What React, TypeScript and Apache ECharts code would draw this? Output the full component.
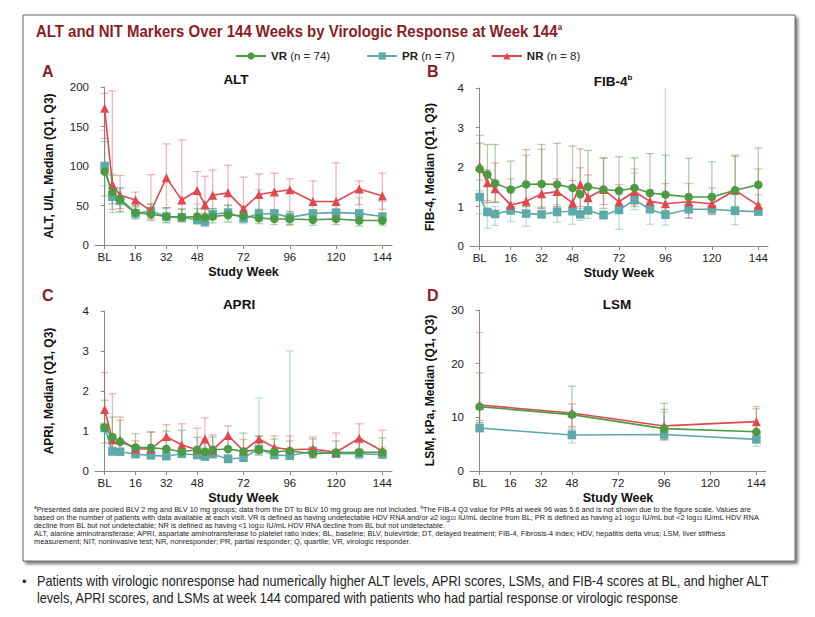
import React, { useEffect, useRef } from "react";
import * as echarts from "echarts";

// ---------- data ----------
const weeks = [0, 4, 8, 16, 24, 32, 40, 48, 52, 56, 64, 72, 80, 88, 96, 108, 120, 132, 144];
const lsmWeeks = [0, 48, 96, 144];
const tickWeeks = [0, 16, 32, 48, 72, 96, 120, 144];

// ALT (U/L)
const altVR = [93, 67, 58, 41, 39, 36, 35, 36, 35, 36, 38, 37, 34, 33, 33, 32, 33, 31, 31];
const altVRq1 = [62, 52, 42, 33, 31, 28, 29, 28, 28, 28, 29, 29, 27, 26, 26, 25, 26, 24, 25];
const altVRq3 = [131, 88, 72, 50, 52, 47, 45, 46, 45, 46, 50, 47, 45, 43, 42, 40, 42, 40, 40];
const altPR = [100, 61, 56, 40, 43, 36, 35, 32, 29, 39, 41, 34, 39, 40, 35, 40, 41, 40, 36];
const altPRq1 = [75, 41, 42, 34, 34, 29, 30, 26, 24, 32, 33, 27, 30, 32, 28, 33, 34, 30, 29];
const altPRq3 = [145, 90, 72, 50, 52, 47, 46, 52, 36, 46, 51, 44, 70, 45, 43, 50, 50, 60, 55];
const altNR = [173, 77, 63, 57, 43, 85, 57, 69, 51, 63, 66, 46, 64, 67, 70, 55, 55, 71, 62];
const altNRq1 = [135, 45, 46, 48, 33, 47, 40, 40, 40, 40, 45, 30, 45, 43, 25, 50, 43, 51, 45];
const altNRq3 = [192, 195, 88, 67, 89, 128, 133, 93, 87, 95, 101, 86, 90, 91, 84, 81, 104, 81, 91];

// FIB-4
const fibVR = [1.95, 1.81, 1.59, 1.43, 1.56, 1.57, 1.56, 1.47, 1.31, 1.5, 1.43, 1.4, 1.47, 1.34, 1.3, 1.24, 1.24, 1.41, 1.55];
const fibVRq1 = [1.3, 1.15, 1.1, 0.95, 1.0, 0.98, 0.98, 0.95, 0.85, 0.95, 0.95, 0.95, 1.0, 0.95, 0.9, 0.85, 0.9, 1.0, 1.05];
const fibVRq3 = [2.8, 2.57, 2.57, 2.15, 2.44, 2.57, 2.6, 2.53, 1.98, 2.42, 2.23, 2.26, 2.23, 2.34, 2.3, 2.22, 2.13, 2.3, 2.48];
const fibPR = [1.24, 0.86, 0.81, 0.9, 0.82, 0.8, 0.86, 0.88, 0.8, 0.9, 0.78, 0.91, 1.17, 0.93, 0.79, 0.93, 0.93, 0.89, 0.87];
const fibPRq1 = [0.82, 0.45, 0.52, 0.62, 0.5, 0.75, 0.6, 0.55, 0.65, 0.7, 0.72, 0.42, 0.92, 0.55, 0.53, 0.72, 0.8, 0.54, 0.8];
const fibPRq3 = [1.4, 1.1, 1.0, 1.1, 1.0, 0.95, 1.05, 1.05, 0.95, 1.1, 0.9, 1.3, 1.85, 1.1, 5.6, 1.05, 1.0, 1.3, 1.3];
const fibNR = [2.02, 1.6, 1.45, 1.04, 1.13, 1.32, 1.38, 1.09, 1.56, 1.23, 1.43, 1.12, 1.38, 1.13, 1.07, 1.12, 1.07, 1.41, 1.03];
const fibNRq1 = [1.67, 1.1, 1.12, 0.95, 0.9, 0.95, 1.0, 0.85, 1.0, 0.95, 1.05, 0.85, 1.05, 0.95, 0.85, 0.7, 0.8, 1.35, 0.9];
const fibNRq3 = [2.6, 1.93, 2.1, 1.7, 2.3, 2.45, 1.7, 1.66, 2.46, 1.8, 2.23, 1.55, 1.95, 1.42, 1.58, 1.58, 1.47, 2.27, 1.95];

// APRI
const apriVR = [1.09, 0.85, 0.73, 0.59, 0.58, 0.55, 0.48, 0.53, 0.48, 0.53, 0.55, 0.49, 0.53, 0.48, 0.5, 0.43, 0.46, 0.47, 0.47];
const apriVRq1 = [0.7, 0.55, 0.5, 0.42, 0.4, 0.38, 0.35, 0.38, 0.35, 0.38, 0.4, 0.36, 0.4, 0.36, 0.36, 0.32, 0.34, 0.35, 0.36];
const apriVRq3 = [1.77, 1.35, 1.27, 0.93, 0.98, 1.0, 1.02, 0.84, 0.8, 0.85, 0.8, 0.95, 0.87, 0.8, 0.75, 0.8, 0.75, 0.8, 0.83];
const apriPR = [1.08, 0.49, 0.48, 0.42, 0.39, 0.37, 0.43, 0.4, 0.36, 0.42, 0.3, 0.33, 0.55, 0.4, 0.38, 0.5, 0.43, 0.43, 0.41];
const apriPRq1 = [0.95, 0.4, 0.42, 0.35, 0.32, 0.3, 0.36, 0.3, 0.3, 0.35, 0.26, 0.28, 0.4, 0.32, 0.3, 0.42, 0.36, 0.3, 0.35];
const apriPRq3 = [1.2, 0.8, 0.55, 0.55, 0.5, 0.48, 0.55, 0.6, 0.5, 0.55, 0.4, 0.45, 1.83, 0.55, 3.0, 0.6, 0.55, 0.7, 0.6];
const apriNR = [1.54, 0.78, 0.78, 0.55, 0.55, 0.86, 0.65, 0.53, 0.8, 0.52, 0.89, 0.5, 0.8, 0.59, 0.53, 0.55, 0.47, 0.82, 0.5];
const apriNRq1 = [1.05, 0.6, 0.55, 0.45, 0.42, 0.55, 0.45, 0.4, 0.45, 0.42, 0.55, 0.4, 0.45, 0.45, 0.3, 0.35, 0.4, 0.55, 0.4];
const apriNRq3 = [2.46, 1.93, 1.35, 0.75, 0.97, 1.16, 1.18, 1.07, 1.33, 0.9, 1.13, 0.79, 0.87, 0.88, 0.88, 0.85, 0.95, 1.18, 1.02];

// LSM (kPa)
const lsmVR = [12.0, 10.5, 7.9, 7.3];
const lsmVRq1 = [9.4, 7.6, 5.8, 5.5];
const lsmVRq3 = [18.3, 15.8, 12.6, 12.0];
const lsmPR = [8.0, 6.7, 6.8, 5.9];
const lsmPRq1 = [7.3, 5.2, 5.8, 4.6];
const lsmPRq3 = [9.0, 8.0, 11.0, 7.0];
const lsmNR = [12.3, 10.8, 8.4, 9.2];
const lsmNRq1 = [9.0, 8.3, 6.0, 7.0];
const lsmNRq3 = [25.8, 12.5, 11.5, 11.6];

const groupNames = ["VR", "PR", "NR"];
const groupN = [74, 7, 8];

// ---------- styles ----------
const FONT = "'Liberation Sans', Arial, Helvetica, sans-serif";
const DARKRED = "#8b1c23";
const COLORS: Record<string, string> = { VR: "#4c9a42", PR: "#5eaaa8", NR: "#e0474f" };
const BAR_COLORS: Record<string, string> = {
  VR: "rgba(76,154,66,0.45)",
  PR: "rgba(94,170,168,0.40)",
  NR: "rgba(224,71,79,0.40)",
};
const SYMBOLS: Record<string, string> = { VR: "circle", PR: "rect", NR: "triangle" };

const grids = [
  { left: 95, top: 87, width: 297, height: 158 },
  { left: 470, top: 88, width: 298, height: 158 },
  { left: 95, top: 311, width: 297, height: 160 },
  { left: 470, top: 310, width: 296, height: 161 },
];
const yCfg = [
  { max: 200, interval: 50, name: "ALT, U/L, Median (Q1, Q3)", gap: 40 },
  { max: 4, interval: 1, name: "FIB-4, Median (Q1, Q3)", gap: 34 },
  { max: 4, interval: 1, name: "APRI, Median (Q1, Q3)", gap: 40 },
  { max: 30, interval: 10, name: "LSM, kPa, Median (Q1, Q3)", gap: 34 },
];

const panels = [
  { xs: weeks, data: { VR: [altVR, altVRq1, altVRq3], PR: [altPR, altPRq1, altPRq3], NR: [altNR, altNRq1, altNRq3] } },
  { xs: weeks, data: { VR: [fibVR, fibVRq1, fibVRq3], PR: [fibPR, fibPRq1, fibPRq3], NR: [fibNR, fibNRq1, fibNRq3] } },
  { xs: weeks, data: { VR: [apriVR, apriVRq1, apriVRq3], PR: [apriPR, apriPRq1, apriPRq3], NR: [apriNR, apriNRq1, apriNRq3] } },
  { xs: lsmWeeks, data: { VR: [lsmVR, lsmVRq1, lsmVRq3], PR: [lsmPR, lsmPRq1, lsmPRq3], NR: [lsmNR, lsmNRq1, lsmNRq3] } },
];

function errRender(color: string) {
  return (params: any, api: any) => {
    const x = api.value(0);
    const lo = api.value(1);
    const hi = api.value(2);
    const cs = params.coordSys;
    const pLo = api.coord([x, lo]);
    const pHi = api.coord([x, hi]);
    const top = cs.y;
    const bottom = cs.y + cs.height;
    const yHi = Math.max(pHi[1], top);
    const yLo = Math.min(pLo[1], bottom);
    const w = 4;
    const st = { stroke: color, lineWidth: 1.3 };
    const children: any[] = [
      { type: "line", shape: { x1: pLo[0], y1: yLo, x2: pHi[0], y2: yHi }, style: st },
      { type: "line", shape: { x1: pLo[0] - w, y1: yLo, x2: pLo[0] + w, y2: yLo }, style: st },
    ];
    if (pHi[1] >= top) {
      children.push({ type: "line", shape: { x1: pHi[0] - w, y1: yHi, x2: pHi[0] + w, y2: yHi }, style: st });
    }
    return { type: "group", children };
  };
}

function buildOption() {
  const xAxis = grids.map((_, i) => ({
    type: "value",
    gridIndex: i,
    min: -5,
    max: 149,
    splitLine: { show: false },
    axisLine: { show: true, lineStyle: { color: "#8a8a8a", width: 1 } },
    axisTick: { show: true, length: 4, customValues: tickWeeks, lineStyle: { color: "#8a8a8a" } },
    axisLabel: {
      customValues: tickWeeks,
      formatter: (v: number) => (v === 0 ? "BL" : String(v)),
      color: "#222",
      fontSize: 11.5,
      fontFamily: FONT,
      margin: 6,
    },
    name: "Study Week",
    nameLocation: "middle",
    nameGap: 20,
    nameTextStyle: { fontWeight: "bold", fontSize: 12.5, color: "#111", fontFamily: FONT },
  }));
  const yAxis = grids.map((_, i) => ({
    type: "value",
    gridIndex: i,
    min: 0,
    max: yCfg[i].max,
    interval: yCfg[i].interval,
    splitLine: { show: false },
    axisLine: { show: true, lineStyle: { color: "#8a8a8a", width: 1 } },
    axisTick: { show: true, length: 4, lineStyle: { color: "#8a8a8a" } },
    axisLabel: { color: "#222", fontSize: 11.5, fontFamily: FONT, margin: 6 },
    name: yCfg[i].name,
    nameLocation: "middle",
    nameRotate: 90,
    nameGap: yCfg[i].gap,
    nameTextStyle: { fontWeight: "bold", fontSize: 12, color: "#111", fontFamily: FONT },
  }));

  const lineSeries: any[] = [];
  const errSeries: any[] = [];
  const drawOrder = ["PR", "NR", "VR"];
  panels.forEach((p, i) => {
    drawOrder.forEach((g, k) => {
      const [med, q1, q3] = (p.data as any)[g];
      lineSeries.push({
        type: "line",
        name: g,
        xAxisIndex: i,
        yAxisIndex: i,
        data: p.xs.map((x, j) => [x, med[j]]),
        symbol: SYMBOLS[g],
        symbolSize: g === "NR" ? 9 : 8.5,
        showAllSymbol: true,
        lineStyle: { color: COLORS[g], width: 1.6 },
        itemStyle: { color: COLORS[g] },
        z: 3 + k,
        silent: true,
      });
      errSeries.push({
        type: "custom",
        name: g + "-err",
        xAxisIndex: i,
        yAxisIndex: i,
        data: p.xs.map((x, j) => [x, q1[j], q3[j]]),
        encode: { x: 0, y: [1, 2] },
        renderItem: errRender(BAR_COLORS[g]),
        z: 2,
        silent: true,
      });
    });
  });

  const sup = (fs: number) => ({ fontSize: fs, padding: [0, 0, fs, 0] });

  const footLines = [
    "{s|a}Presented data are pooled BLV 2 mg and BLV 10 mg groups; data from the DT to BLV 10 mg group are not included. {s|b}The FIB-4 Q3 value for PRs at week 96 was 5.6 and is not shown due to the figure scale. Values are",
    "based on the number of patients with data available at each visit. VR is defined as having undetectable HDV RNA and/or ≥2 log{d|10} IU/mL decline from BL; PR is defined as having ≥1 log{d|10} IU/mL but <2 log{d|10} IU/mL HDV RNA",
    "decline from BL but not undetectable; NR is defined as having <1 log{d|10} IU/mL HDV RNA decline from BL but not undetectable.",
    "ALT, alanine aminotransferase; APRI, aspartate aminotransferase to platelet ratio index; BL, baseline; BLV, bulevirtide; DT, delayed treatment; FIB-4, Fibrosis-4 index; HDV, hepatitis delta virus; LSM, liver stiffness",
    "measurement; NIT, noninvasive test; NR, nonresponder; PR, partial responder; Q, quartile; VR, virologic responder.",
  ];

  const graphic: any[] = [
    {
      type: "rect",
      shape: { x: 23, y: 15, width: 772, height: 546 },
      style: { fill: "#fff", stroke: "#666", lineWidth: 1, shadowBlur: 3, shadowOffsetX: 2.5, shadowOffsetY: 2.5, shadowColor: "rgba(0,0,0,0.55)" },
      z: -10,
      silent: true,
    },
    {
      type: "text",
      x: 36,
      y: 31,
      scaleX: 0.88,
      style: {
        text: "ALT and NIT Markers Over 144 Weeks by Virologic Response at Week 144{s|a}",
        fill: DARKRED,
        fontFamily: FONT,
        fontWeight: "bold",
        fontSize: 17,
        verticalAlign: "middle",
        rich: { s: { ...sup(9), fill: DARKRED, fontFamily: FONT, fontWeight: "bold" } },
      },
    },
    ...[
      ["A", 42, 71],
      ["B", 427, 71],
      ["C", 42, 295],
      ["D", 427, 295],
    ].map(([t, x, y]) => ({
      type: "text",
      x,
      y,
      style: { text: t, fill: DARKRED, fontFamily: FONT, fontWeight: "bold", fontSize: 16, verticalAlign: "middle" },
    })),
    ...[
      ["ALT", 236, 79],
      ["FIB-4{s|b}", 613, 81],
      ["APRI", 239, 304],
      ["LSM", 617, 304],
    ].map(([t, x, y]) => ({
      type: "text",
      x,
      y,
      style: {
        text: t,
        fill: "#111",
        fontFamily: FONT,
        fontWeight: "bold",
        fontSize: 13.5,
        align: "center",
        verticalAlign: "middle",
        rich: { s: { ...sup(8), fill: "#111", fontFamily: FONT, fontWeight: "bold" } },
      },
    })),
    ...footLines.map((t, i) => ({
      type: "text",
      x: 34,
      y: 509 + i * 8,
      style: {
        text: t,
        fill: "#222",
        fontFamily: FONT,
        fontSize: 7.4,
        verticalAlign: "middle",
        rich: {
          s: { fontSize: 4.8, padding: [0, 0, 4, 0], fill: "#222", fontFamily: FONT },
          d: { fontSize: 4.8, padding: [3, 0, 0, 0], fill: "#222", fontFamily: FONT },
        },
      },
    })),
    {
      type: "text",
      x: 22,
      y: 581,
      style: { text: "•", fill: "#222", fontFamily: FONT, fontSize: 13, verticalAlign: "middle" },
    },
    {
      type: "text",
      x: 37,
      y: 581,
      scaleX: 0.87,
      style: {
        text: "Patients with virologic nonresponse had numerically higher ALT levels, APRI scores, LSMs, and FIB-4 scores at BL, and higher ALT",
        fill: "#222",
        fontFamily: FONT,
        fontSize: 14.5,
        verticalAlign: "middle",
      },
    },
    {
      type: "text",
      x: 37,
      y: 598,
      scaleX: 0.87,
      style: {
        text: "levels, APRI scores, and LSMs at week 144 compared with patients who had partial response or virologic response",
        fill: "#222",
        fontFamily: FONT,
        fontSize: 14.5,
        verticalAlign: "middle",
      },
    },
  ];

  return {
    animation: false,
    backgroundColor: "#fff",
    textStyle: { fontFamily: FONT },
    legend: {
      data: groupNames,
      top: 45,
      left: 230,
      itemWidth: 30,
      itemHeight: 9,
      itemGap: 36,
      selectedMode: false,
      formatter: (name: string) => `{b|${name}} (n = ${groupN[groupNames.indexOf(name)]})`,
      textStyle: {
        fontFamily: FONT,
        fontSize: 11.5,
        color: "#222",
        rich: { b: { fontFamily: FONT, fontSize: 11.5, fontWeight: "bold", color: "#222" } },
      },
    },
    grid: grids.map((g) => ({ ...g, containLabel: false, outerBoundsMode: "none" })),
    xAxis,
    yAxis,
    series: [...lineSeries, ...errSeries],
    graphic,
  };
}

export default function App() {
  const ref = useRef<HTMLDivElement>(null);
  useEffect(() => {
    if (!ref.current) return;
    const chart = echarts.init(ref.current, null, { renderer: "svg" });
    chart.setOption(buildOption() as any);
    return () => chart.dispose();
  }, []);
  return (
    <div
      ref={ref}
      style={{ position: "fixed", left: 0, top: 0, width: 815, height: 617, background: "#fff" }}
    />
  );
}
